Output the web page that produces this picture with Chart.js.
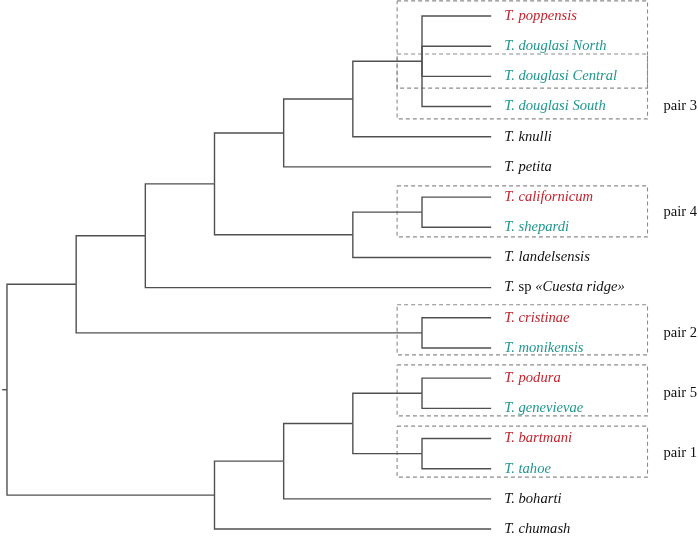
<!DOCTYPE html>
<html lang="en">
<head>
    <meta charset="UTF-8">
    <title>Timema phylogeny</title>
    <script src="https://cdn.jsdelivr.net/npm/chart.js"></script>
    <style>
        html, body { margin: 0; padding: 0; background: #fff; }
        #wrap { width: 698px; height: 536px; }
    </style>
</head>
<body>
    <div id="wrap"><canvas id="treeChart"></canvas></div>
    <script>
        // leaves, top to bottom
        const taxa = ['T. poppensis', 'T. douglasi North', 'T. douglasi Central', 'T. douglasi South',
            'T. knulli', 'T. petita', 'T. californicum', 'T. shepardi', 'T. landelsensis',
            'T. sp «Cuesta ridge»', 'T. cristinae', 'T. monikensis', 'T. podura', 'T. genevievae',
            'T. bartmani', 'T. tahoe', 'T. boharti', 'T. chumash'];
        // r = red, g = teal, k = black
        const taxonGroup = ['r', 'g', 'g', 'g', 'k', 'k', 'r', 'g', 'k', 'k', 'r', 'g', 'r', 'g', 'r', 'g', 'k', 'k'];

        // internal nodes: depth (cladogram level) and children (leaf index or 'n' + node index)
        const nodeDepth = [6, 5, 4, 6, 5, 3, 2, 6, 1, 6, 6, 5, 4, 3, 0];
        const nodeChildren = [
            [0, 1, 2, 3],        // n0
            ['n0', 4],           // n1
            ['n1', 5],           // n2
            [6, 7],              // n3
            ['n3', 8],           // n4
            ['n2', 'n4'],        // n5
            ['n5', 9],           // n6
            [10, 11],            // n7
            ['n6', 'n7'],        // n8
            [12, 13],            // n9
            [14, 15],            // n10
            ['n9', 'n10'],       // n11
            ['n11', 16],         // n12
            ['n12', 17],         // n13
            ['n8', 'n13']        // n14 root
        ];
        const leafDepth = 7;

        // dashed boxes, top and bottom edge in leaf rows
        const boxTop = [-0.5, 1.26, 5.63, 9.57, 11.56, 13.59];
        const boxBottom = [2.39, 3.41, 7.32, 11.23, 13.25, 15.28];
        const pairLabels = ['pair 3', 'pair 4', 'pair 2', 'pair 5', 'pair 1'];
        const pairLabelRows = [3, 6.5, 10.5, 12.5, 14.5];

        const colors = { r: '#c4232e', g: '#1e968f', k: '#111' };

        // y of nodes = middle of first and last child
        const nodeY = [];
        function childPos(c) {
            if (typeof c === 'number') return { x: leafDepth, y: c };
            const i = parseInt(c.slice(1));
            return { x: nodeDepth[i], y: getY(i) };
        }
        function getY(i) {
            if (nodeY[i] === undefined) {
                const ch = nodeChildren[i];
                nodeY[i] = (childPos(ch[0]).y + childPos(ch[ch.length - 1]).y) / 2;
            }
            return nodeY[i];
        }

        const datasets = [];
        const lineStyle = { showLine: true, borderColor: '#505050', borderWidth: 1.4, pointRadius: 0, fill: false, tension: 0 };
        nodeChildren.forEach((ch, i) => {
            const px = nodeDepth[i], py = getY(i);
            ch.forEach(c => {
                const p = childPos(c);
                datasets.push(Object.assign({ data: [{ x: px, y: py }, { x: px, y: p.y }, { x: p.x, y: p.y }] }, lineStyle));
            });
        });
        // root stub
        const rootY = getY(nodeChildren.length - 1);
        datasets.push(Object.assign({ data: [{ x: -0.07, y: rootY }, { x: 0, y: rootY }] }, lineStyle));

        const boxLeft = 5.64, boxRight = 9.26;
        boxTop.forEach((top, i) => {
            const bot = boxBottom[i];
            datasets.push({
                showLine: true, borderColor: '#8c8c8c', borderWidth: 1.1, borderDash: [4, 3], pointRadius: 0, fill: false,
                data: [{ x: boxLeft, y: top }, { x: boxRight, y: top }, { x: boxRight, y: bot }, { x: boxLeft, y: bot }, { x: boxLeft, y: top }]
            });
        });

        const labelPlugin = {
            id: 'labels',
            afterDatasetsDraw(chart) {
                const ctx = chart.ctx;
                const xs = chart.scales.x, ys = chart.scales.y;
                ctx.save();
                ctx.textBaseline = 'middle';
                const serif = '"Liberation Serif", "Times New Roman", serif';
                taxa.forEach((name, i) => {
                    let x = xs.getPixelForValue(leafDepth) + 13;
                    const y = ys.getPixelForValue(i);
                    ctx.fillStyle = colors[taxonGroup[i]];
                    if (name.indexOf(' sp ') > 0) {
                        const parts = [['T. ', 'italic'], ['sp ', 'normal'], ['«Cuesta ridge»', 'italic']];
                        parts.forEach(p => {
                            ctx.font = p[1] + ' 14.6px ' + serif;
                            ctx.fillText(p[0], x, y);
                            x += ctx.measureText(p[0]).width;
                        });
                    } else {
                        ctx.font = 'italic 14.6px ' + serif;
                        ctx.fillText(name, x, y);
                    }
                });
                ctx.fillStyle = '#111';
                ctx.font = '14.6px ' + serif;
                pairLabels.forEach((t, i) => {
                    ctx.fillText(t, xs.getPixelForValue(9.49), ys.getPixelForValue(pairLabelRows[i]));
                });
                ctx.restore();
            }
        };

        new Chart(document.getElementById('treeChart'), {
            type: 'scatter',
            data: { datasets },
            options: {
                responsive: true,
                maintainAspectRatio: false,
                animation: false,
                layout: { padding: 0 },
                scales: {
                    x: { type: 'linear', min: -0.101, max: 9.99, display: false },
                    y: { type: 'linear', min: -0.53, max: 17.23, reverse: true, display: false }
                },
                plugins: { legend: { display: false }, tooltip: { enabled: false } }
            },
            plugins: [labelPlugin]
        });
    </script>
</body>
</html>
